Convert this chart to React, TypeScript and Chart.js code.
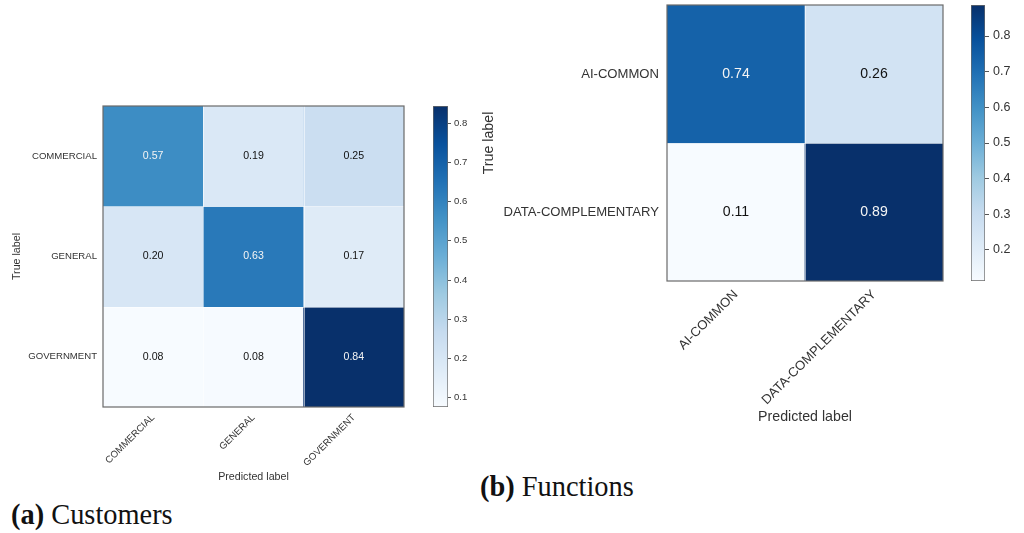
import React, { useEffect, useRef } from 'react';
import { Chart, registerables } from 'chart.js';

Chart.register(...registerables);

// ---------- data ----------
const customerLabels = ['COMMERCIAL', 'GENERAL', 'GOVERNMENT'];
const customerRow1 = [0.57, 0.19, 0.25];
const customerRow2 = [0.2, 0.63, 0.17];
const customerRow3 = [0.076, 0.08, 0.844];
const customerMatrix = [customerRow1, customerRow2, customerRow3];
const customerCbarTicks = [0.1, 0.2, 0.3, 0.4, 0.5, 0.6, 0.7, 0.8];

const functionLabels = ['AI-COMMON', 'DATA-COMPLEMENTARY'];
const functionRow1 = [0.74, 0.26];
const functionRow2 = [0.113, 0.887];
const functionMatrix = [functionRow1, functionRow2];
const functionCbarTicks = [0.2, 0.3, 0.4, 0.5, 0.6, 0.7, 0.8];

const xTitle = 'Predicted label';
const yTitle = 'True label';

// ---------- colour map (matplotlib Blues) ----------
const BLUES: [number, number, number][] = [
  [247, 251, 255],
  [222, 235, 247],
  [198, 219, 239],
  [158, 202, 225],
  [107, 174, 214],
  [66, 146, 198],
  [33, 113, 181],
  [8, 81, 156],
  [8, 48, 107],
];
function blues(t: number): string {
  const tt = Math.max(0, Math.min(1, t)) * (BLUES.length - 1);
  const i = Math.min(BLUES.length - 2, Math.floor(tt));
  const f = tt - i;
  const a = BLUES[i], b = BLUES[i + 1];
  const c = a.map((v, k) => Math.round(v + (b[k] - v) * f));
  return `rgb(${c[0]},${c[1]},${c[2]})`;
}

const FAMILY = '"Liberation Sans", Arial, Helvetica, sans-serif';
const TEXT = '#333333';

type Frame = { left: number; top: number; width: number; height: number };
type Area = { left: number; top: number; right: number; bottom: number };
type Fonts = { tick: number; value: number; title: number };

function zeroPad(s: any) {
  s.paddingLeft = 0;
  s.paddingRight = 0;
  s.paddingTop = 0;
  s.paddingBottom = 0;
}

function buildMatrixChart(
  canvas: HTMLCanvasElement,
  labels: string[],
  matrix: number[][],
  frame: Frame,
  area: Area,
  fs: Fonts,
  xTickPad: number,
  yTickPad: number,
  yTitleX: number,
  xTitleY: number
) {
  const n = labels.length;
  const flat = matrix.flat();
  const vmin = Math.min(...flat);
  const vmax = Math.max(...flat);
  const thresh = (vmin + vmax) / 2;
  const lh = fs.title * 1.2;
  const yW = area.left - frame.left;
  const xH = xTitleY - area.bottom + lh / 2;
  const padTop = area.top - frame.top;
  const padRight = frame.left + frame.width - area.right;
  const padBottom = frame.top + frame.height - area.bottom - xH;
  const yTitlePad = yTitleX - frame.left - lh / 2;

  const datasets = matrix.map((row, r) => ({
    data: row.map(() => [r - 0.5, r + 0.5]),
    backgroundColor: row.map((v) => blues((v - vmin) / (vmax - vmin))),
    borderWidth: 0,
    barPercentage: 1,
    categoryPercentage: 1,
    grouped: false,
  }));

  const cellPlugin = {
    id: 'cells',
    afterDatasetsDraw(chart: any) {
      const { ctx, chartArea } = chart;
      const x = chart.scales.x;
      const y = chart.scales.y;
      ctx.save();
      ctx.strokeStyle = 'rgba(255,255,255,0.55)';
      ctx.lineWidth = 1;
      for (let i = 1; i < n; i++) {
        const px = Math.round((x.getPixelForValue(i - 1) + x.getPixelForValue(i)) / 2) + 0.5;
        ctx.beginPath();
        ctx.moveTo(px, chartArea.top);
        ctx.lineTo(px, chartArea.bottom);
        ctx.stroke();
        const py = Math.round(y.getPixelForValue(i - 0.5)) + 0.5;
        ctx.beginPath();
        ctx.moveTo(chartArea.left, py);
        ctx.lineTo(chartArea.right, py);
        ctx.stroke();
      }
      ctx.font = `${fs.value}px ${FAMILY}`;
      ctx.textAlign = 'center';
      ctx.textBaseline = 'middle';
      chart.data.datasets.forEach((_ds: any, r: number) => {
        const meta = chart.getDatasetMeta(r);
        meta.data.forEach((el: any, c: number) => {
          const v = matrix[r][c];
          const p = el.getCenterPoint();
          ctx.fillStyle = v > thresh ? '#f4f4f4' : '#111111';
          ctx.fillText(v.toFixed(2), p.x, p.y);
        });
      });
      ctx.strokeStyle = '#6a6a6a';
      ctx.lineWidth = 1.2;
      ctx.strokeRect(chartArea.left, chartArea.top, chartArea.width, chartArea.height);
      ctx.restore();
    },
  };

  return new Chart(canvas, {
    type: 'bar',
    data: { labels, datasets: datasets as any },
    plugins: [cellPlugin],
    options: {
      animation: false,
      responsive: false,
      maintainAspectRatio: false,
      events: [],
      layout: { padding: { left: 0, top: padTop, right: padRight, bottom: padBottom } },
      plugins: { legend: { display: false }, tooltip: { enabled: false } },
      scales: {
        x: {
          type: 'category',
          offset: true,
          grid: { display: false, drawTicks: false },
          border: { display: false },
          ticks: {
            autoSkip: false,
            minRotation: 45,
            maxRotation: 45,
            padding: xTickPad,
            color: TEXT,
            font: { size: fs.tick, family: FAMILY },
          },
          title: {
            display: true,
            text: xTitle,
            color: TEXT,
            padding: { top: 0, bottom: 0 },
            font: { size: fs.title, family: FAMILY, lineHeight: 1.2 },
          },
          afterFit: (s: any) => {
            s.height = xH;
            zeroPad(s);
          },
        },
        y: {
          type: 'linear',
          min: -0.5,
          max: n - 0.5,
          reverse: true,
          afterBuildTicks: (s: any) => {
            s.ticks = labels.map((_l, i) => ({ value: i }));
          },
          grid: { display: false, drawTicks: false },
          border: { display: false },
          ticks: {
            padding: yTickPad,
            color: TEXT,
            font: { size: fs.tick, family: FAMILY },
            callback: (v: any) => labels[v as number],
          },
          title: {
            display: true,
            text: yTitle,
            color: TEXT,
            padding: { top: yTitlePad, bottom: 0 },
            font: { size: fs.title, family: FAMILY, lineHeight: 1.2 },
          },
          afterFit: (s: any) => {
            s.width = yW;
            zeroPad(s);
          },
        },
      } as any,
    },
  });
}

function buildColorbar(
  canvas: HTMLCanvasElement,
  matrix: number[][],
  ticks: number[],
  frame: Frame,
  area: Area,
  fontSize: number,
  tickLen: number,
  tickPad: number
) {
  const flat = matrix.flat();
  const vmin = Math.min(...flat);
  const vmax = Math.max(...flat);
  const padLeft = area.left - frame.left;
  const padTop = area.top - frame.top;
  const padBottom = frame.top + frame.height - area.bottom;
  const axisW = frame.left + frame.width - area.right;
  return new Chart(canvas, {
    type: 'bar',
    data: {
      labels: [''],
      datasets: [
        {
          data: [[vmin, vmax]] as any,
          backgroundColor: (c: any) => {
            const chart = c.chart;
            const y = chart.scales.y;
            if (!chart.chartArea || !y) return blues(0.5);
            const g = chart.ctx.createLinearGradient(0, y.getPixelForValue(vmin), 0, y.getPixelForValue(vmax));
            BLUES.forEach((_b, i) => g.addColorStop(i / (BLUES.length - 1), blues(i / (BLUES.length - 1))));
            return g;
          },
          borderColor: '#6a6a6a',
          borderWidth: 1,
          borderSkipped: false,
          barPercentage: 1,
          categoryPercentage: 1,
        },
      ],
    },
    options: {
      animation: false,
      responsive: false,
      maintainAspectRatio: false,
      events: [],
      layout: { padding: { left: padLeft, top: padTop, right: 0, bottom: padBottom } },
      plugins: { legend: { display: false }, tooltip: { enabled: false } },
      scales: {
        x: { display: false },
        y: {
          position: 'right',
          min: vmin,
          max: vmax,
          afterBuildTicks: (s: any) => {
            s.ticks = ticks.map((v) => ({ value: v }));
          },
          grid: { drawOnChartArea: false, drawTicks: true, tickLength: tickLen, tickColor: '#555555' },
          border: { display: false },
          ticks: {
            padding: tickPad,
            color: TEXT,
            font: { size: fontSize, family: FAMILY },
            callback: (v: any) => Number(v).toFixed(1),
          },
          afterFit: (s: any) => {
            s.width = axisW;
            zeroPad(s);
          },
        },
      } as any,
    },
  });
}

const leftFrame: Frame = { left: 0, top: 90, width: 425, height: 400 };
const leftArea: Area = { left: 103, top: 106, right: 404, bottom: 407 };
const leftCbFrame: Frame = { left: 425, top: 90, width: 55, height: 400 };
const leftCbArea: Area = { left: 433, top: 106, right: 448, bottom: 407 };

const rightFrame: Frame = { left: 470, top: 0, width: 485, height: 440 };
const rightArea: Area = { left: 667, top: 5, right: 943, bottom: 281 };
const rightCbFrame: Frame = { left: 958, top: 0, width: 66, height: 300 };
const rightCbArea: Area = { left: 971, top: 5, right: 985, bottom: 281 };

function Canvas({ frame, setRef }: { frame: Frame; setRef: (c: HTMLCanvasElement | null) => void }) {
  return (
    <canvas
      ref={setRef}
      width={frame.width}
      height={frame.height}
      style={{ position: 'absolute', left: frame.left, top: frame.top, width: frame.width, height: frame.height, display: 'block' }}
    />
  );
}

export default function App() {
  const a = useRef<HTMLCanvasElement | null>(null);
  const b = useRef<HTMLCanvasElement | null>(null);
  const c = useRef<HTMLCanvasElement | null>(null);
  const d = useRef<HTMLCanvasElement | null>(null);

  useEffect(() => {
    const charts: Chart[] = [];
    if (a.current)
      charts.push(
        buildMatrixChart(a.current, customerLabels, customerMatrix, leftFrame, leftArea, { tick: 9.6, value: 10.6, title: 10.7 }, 5, 6, 17, 477)
      );
    if (b.current) charts.push(buildColorbar(b.current, customerMatrix, customerCbarTicks, leftCbFrame, leftCbArea, 9.5, 3, 3));
    if (c.current)
      charts.push(
        buildMatrixChart(c.current, functionLabels, functionMatrix, rightFrame, rightArea, { tick: 13.1, value: 14.1, title: 14.2 }, 6, 8, 489.5, 417)
      );
    if (d.current) charts.push(buildColorbar(d.current, functionMatrix, functionCbarTicks, rightCbFrame, rightCbArea, 12.5, 4, 4));
    return () => charts.forEach((ch) => ch.destroy());
  }, []);

  const caption: React.CSSProperties = {
    position: 'absolute',
    fontFamily: '"Liberation Serif", "Times New Roman", serif',
    fontSize: 28.4,
    lineHeight: '28px',
    color: '#111',
    whiteSpace: 'nowrap',
  };

  return (
    <div style={{ position: 'absolute', left: 0, top: 0, width: 1024, height: 533, background: '#fff', overflow: 'hidden' }}>
      <Canvas frame={leftFrame} setRef={(el) => (a.current = el)} />
      <Canvas frame={leftCbFrame} setRef={(el) => (b.current = el)} />
      <Canvas frame={rightFrame} setRef={(el) => (c.current = el)} />
      <Canvas frame={rightCbFrame} setRef={(el) => (d.current = el)} />
      <div style={{ ...caption, left: 11, top: 501 }}>
        <b>(a)</b> Customers
      </div>
      <div style={{ ...caption, left: 480, top: 473 }}>
        <b>(b)</b> Functions
      </div>
    </div>
  );
}
